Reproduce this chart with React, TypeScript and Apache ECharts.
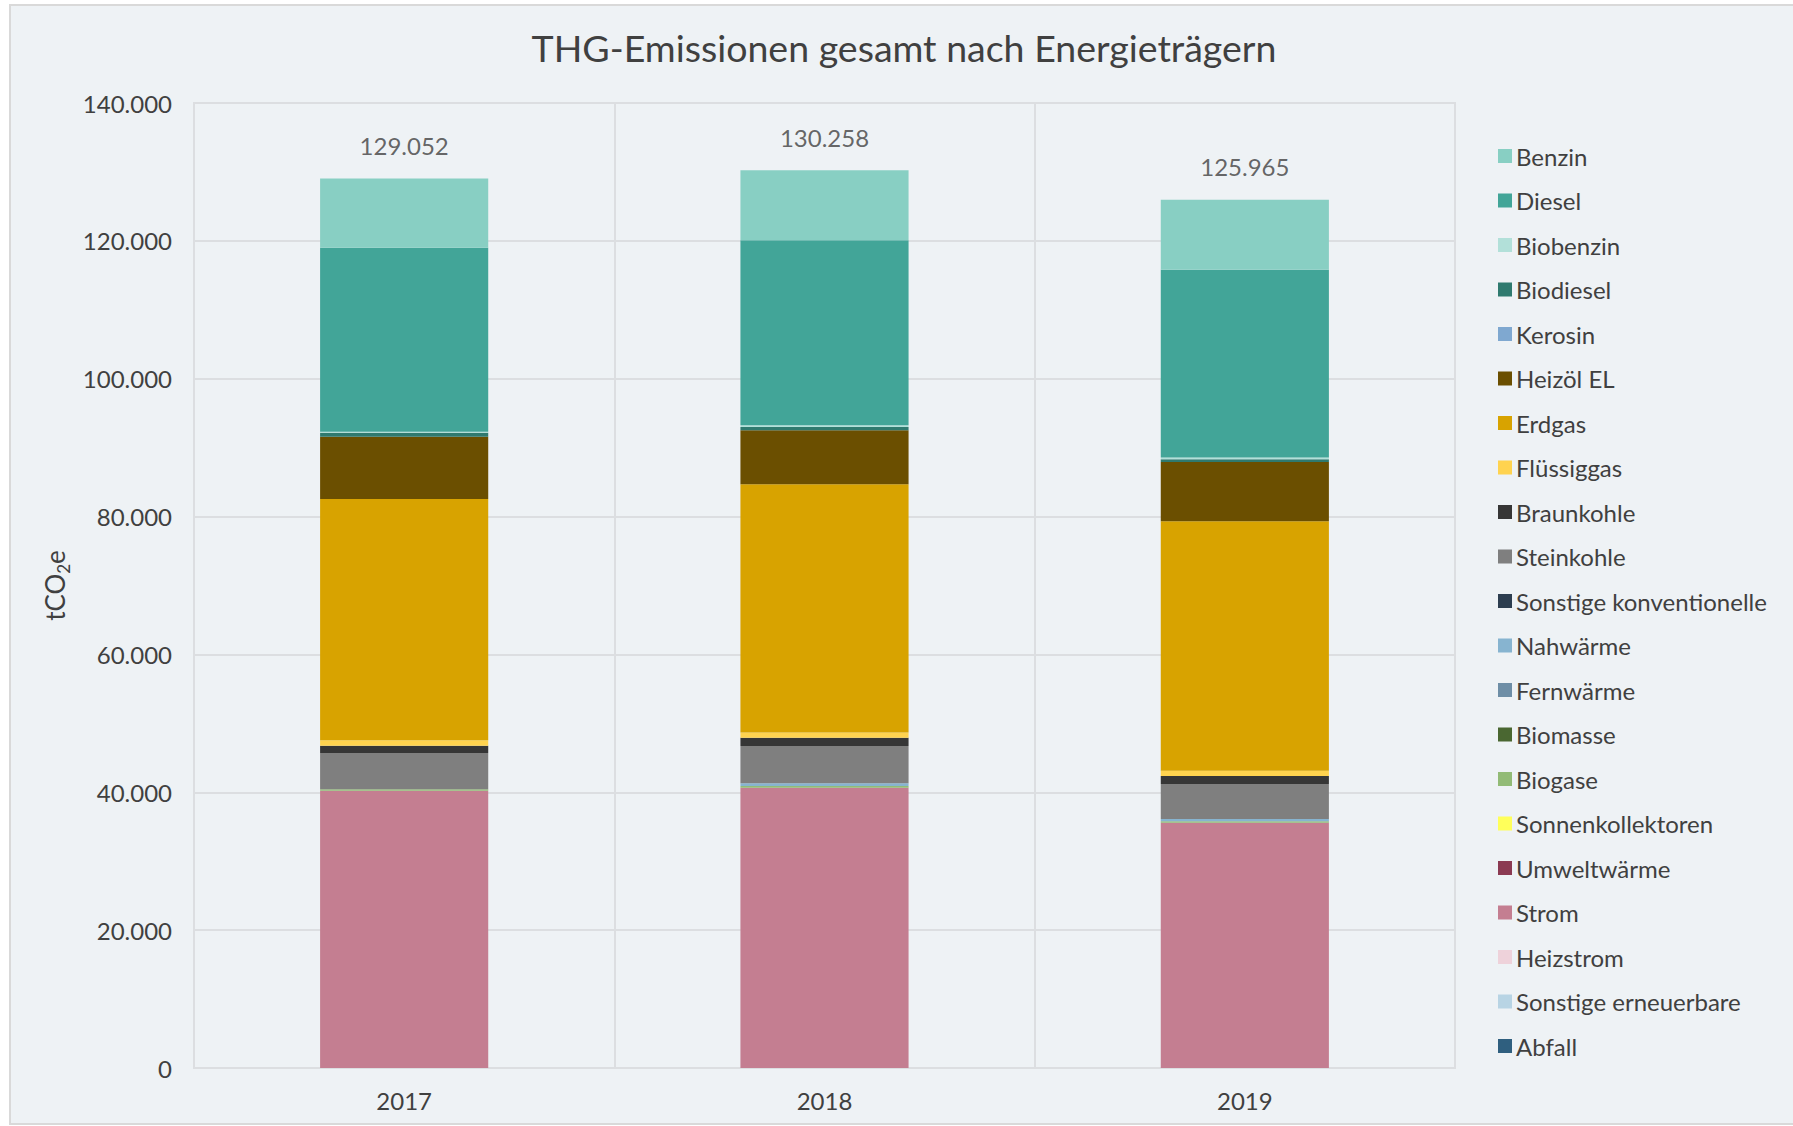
import React, { useEffect, useRef } from "react";
import * as echarts from "echarts";

const years = ["2017", "2018", "2019"];
const totals = [129052, 130258, 125965];

// values in tCO2e, per energy carrier, per year
const benzin = [10052, 10158, 10165];
const diesel = [26690, 26850, 27230];
const biobenzin = [150, 250, 250];
const biodiesel = [580, 480, 390];
const kerosin = [0, 0, 0];
const heizoel = [9040, 7830, 8600];
const erdgas = [35000, 36000, 36200];
const fluessiggas = [780, 780, 770];
const braunkohle = [1060, 1200, 1160];
const steinkohle = [5270, 5410, 5080];
const sonstigeKonv = [0, 0, 0];
const nahwaerme = [0, 390, 330];
const fernwaerme = [0, 0, 0];
const biomasse = [0, 0, 0];
const biogase = [200, 250, 200];
const sonnenkollektoren = [0, 0, 0];
const umweltwaerme = [0, 0, 0];
const strom = [40230, 40660, 35590];
const heizstrom = [0, 0, 0];
const sonstigeErn = [0, 0, 0];
const abfall = [0, 0, 0];

// legend order (top of stack first)
const carriers: [string, number[], string][] = [
  ["Benzin", benzin, "#88cfc3"],
  ["Diesel", diesel, "#42a598"],
  ["Biobenzin", biobenzin, "#b2e0d9"],
  ["Biodiesel", biodiesel, "#2f7a6f"],
  ["Kerosin", kerosin, "#7fa8d0"],
  ["Heizöl EL", heizoel, "#6b4f00"],
  ["Erdgas", erdgas, "#d8a300"],
  ["Flüssiggas", fluessiggas, "#ffd34f"],
  ["Braunkohle", braunkohle, "#363636"],
  ["Steinkohle", steinkohle, "#7f7f7f"],
  ["Sonstige konventionelle", sonstigeKonv, "#2d3e50"],
  ["Nahwärme", nahwaerme, "#87b4d0"],
  ["Fernwärme", fernwaerme, "#6e8ea6"],
  ["Biomasse", biomasse, "#4a6731"],
  ["Biogase", biogase, "#92bb76"],
  ["Sonnenkollektoren", sonnenkollektoren, "#ffff5a"],
  ["Umweltwärme", umweltwaerme, "#8b3a52"],
  ["Strom", strom, "#c47e91"],
  ["Heizstrom", heizstrom, "#eed2da"],
  ["Sonstige erneuerbare", sonstigeErn, "#b8d4e4"],
  ["Abfall", abfall, "#2f5f7f"],
];

const fmt = (n: number) => String(Math.round(n)).replace(/\B(?=(\d{3})+(?!\d))/g, ".");

const FONT = "Lato";
const TXT = "#404040";
const GRIDC = "#dcdee1";

export default function App() {
  const ref = useRef<HTMLDivElement>(null);
  useEffect(() => {
    if (!ref.current) return;
    const chart = echarts.init(ref.current, undefined, { renderer: "svg" });
    const barSeries = carriers
      .slice()
      .reverse()
      .map(([name, data, color]) => ({
        name,
        type: "bar",
        stack: "total",
        data,
        barCategoryGap: "60%",
        itemStyle: { color },
        emphasis: { disabled: true },
      }));
    chart.setOption({
      animation: false,
      backgroundColor: "transparent",
      textStyle: { fontFamily: FONT },
      graphic: [
        {
          type: "rect",
          z: -10,
          silent: true,
          shape: { x: 10, y: 5, width: 1800, height: 1119 },
          style: { fill: "#eef2f5", stroke: "#d9d9d9", lineWidth: 2 },
        },
      ],
      title: {
        text: "THG-Emissionen gesamt nach Energieträgern",
        left: 899,
        textAlign: "center",
        top: 23,
        textStyle: { fontFamily: FONT, fontSize: 37.5, fontWeight: "normal", color: TXT },
      },
      legend: {
        orient: "vertical",
        left: 1498,
        top: 144,
        padding: 0,
        itemWidth: 14,
        itemHeight: 14,
        itemGap: 20.5,
        icon: "rect",
        data: carriers.map((c) => c[0]),
        textStyle: { fontFamily: FONT, fontSize: 24, color: TXT, lineHeight: 24, padding: [0, 0, 0, -1] },
        selectedMode: false,
      },
      grid: { left: 194, top: 103, right: 338, bottom: 58, show: true, borderColor: GRIDC, borderWidth: 2 },
      xAxis: {
        type: "category",
        data: years,
        axisTick: { show: false },
        axisLine: { lineStyle: { color: GRIDC, width: 2 } },
        splitLine: { show: true, lineStyle: { color: GRIDC, width: 2 } },
        axisLabel: { fontFamily: FONT, fontSize: 24, color: TXT, margin: 20 },
      },
      yAxis: {
        type: "value",
        min: 0,
        max: 140000,
        interval: 20000,
        axisLine: { show: false },
        axisTick: { show: false },
        splitLine: { lineStyle: { color: GRIDC, width: 2 } },
        axisLabel: { fontFamily: FONT, fontSize: 24, color: TXT, margin: 22, formatter: (v: number) => fmt(v) },
        name: "{a|tCO}{b|2}{a|e}",
        nameLocation: "middle",
        nameRotate: 90,
        nameGap: 122,
        nameTextStyle: {
          rich: {
            a: { fontFamily: FONT, fontSize: 26, color: TXT, lineHeight: 33 },
            b: { fontFamily: FONT, fontSize: 17, color: TXT, lineHeight: 17, verticalAlign: "bottom" },
          },
        },
      },
      series: [
        ...barSeries,
        {
          name: "Gesamt",
          type: "scatter",
          data: totals,
          symbolSize: 0,
          silent: true,
          label: {
            show: true,
            position: "top",
            distance: 21,
            fontFamily: FONT,
            fontSize: 24,
            color: TXT,
            formatter: (p: any) => fmt(totals[p.dataIndex]),
          },
          z: 10,
        },
      ],
    });
    return () => chart.dispose();
  }, []);
  return (
    <div
      ref={ref}
      style={{ position: "fixed", left: 0, top: 0, width: 1793, height: 1126, background: "#ffffff" }}
    />
  );
}
